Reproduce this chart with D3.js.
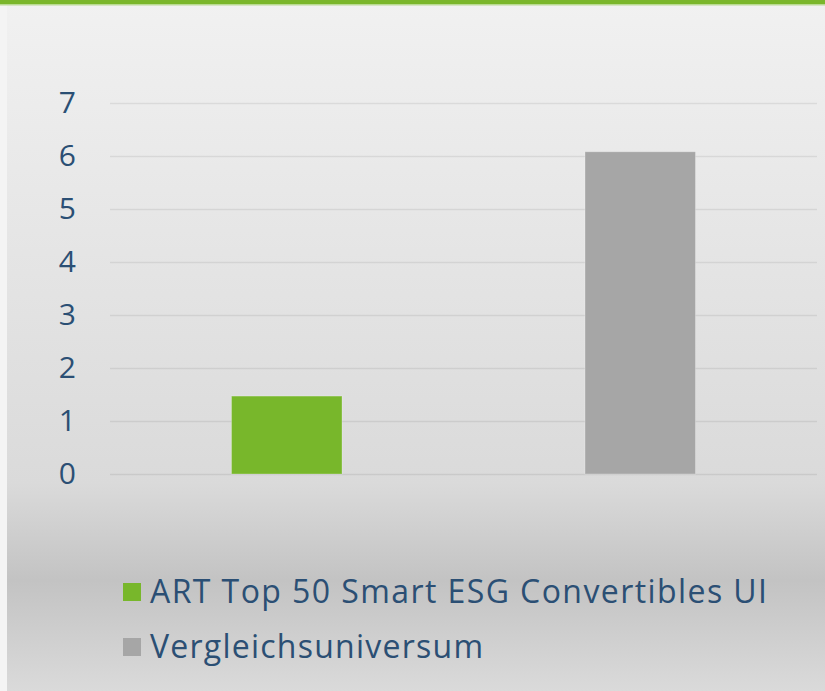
<!DOCTYPE html>
<html lang="de">
<head>
    <meta charset="UTF-8">
    <title>ART Top 50 Smart ESG Convertibles UI</title>
    <script src="https://d3js.org/d3.v7.min.js"></script>
    <style>
        body { margin: 0; overflow: hidden; }
        svg { display: block; }
    </style>
</head>
<body>
    <svg id="chart" width="825" height="691"></svg>
    <script>
        // Daten
        const categories = ["ART Top 50 Smart ESG Convertibles UI", "Vergleichsuniversum"];
        const values = [1.47, 6.08];
        const colors = ["#78b72b", "#a6a6a6"];
        const yTicks = [0, 1, 2, 3, 4, 5, 6, 7];

        const W = 825, H = 691;
        const margin = { top: 103, right: 8, bottom: 217, left: 110 };
        const width = W - margin.left - margin.right,
              height = H - margin.top - margin.bottom;

        const svg = d3.select('#chart');

        // Hintergrund mit Verlauf
        const defs = svg.append('defs');
        const grad = defs.append('linearGradient')
            .attr('id', 'bg')
            .attr('x1', 0).attr('y1', 0).attr('x2', 0).attr('y2', 1);
        [[0, '#f1f1f1'], [0.7, '#dadada'], [0.84, '#c3c3c3'], [1, '#dadada']].forEach(s => {
            grad.append('stop').attr('offset', s[0]).attr('stop-color', s[1]);
        });
        svg.append('rect').attr('width', W).attr('height', H).attr('fill', 'url(#bg)');
        svg.append('rect').attr('width', 7).attr('height', H).attr('fill', '#f4f4f4');
        svg.append('rect').attr('width', W).attr('height', 4).attr('fill', '#7ab62b');
        svg.append('rect').attr('y', 4).attr('width', W).attr('height', 1.5).attr('fill', '#b9da92');

        const g = svg.append('g')
            .attr('transform', `translate(${margin.left},${margin.top})`);

        const x = d3.scaleBand()
            .domain(categories)
            .range([0, width])
            .paddingInner(0.6875)
            .paddingOuter(0.34375);

        const y = d3.scaleLinear()
            .domain([0, 7])
            .range([height, 0]);

        // Gitterlinien
        g.append('g')
            .call(d3.axisLeft(y).tickValues(yTicks).tickSize(-width).tickFormat(''))
            .call(ax => ax.select('.domain').remove())
            .call(ax => ax.selectAll('line')
                .attr('stroke', 'rgba(0,0,0,0.075)')
                .attr('stroke-width', 1.5));

        // Achsenbeschriftung
        g.append('g')
            .attr('transform', 'translate(-31,0)')
            .call(d3.axisLeft(y).tickValues(yTicks).tickSize(0).tickFormat(d3.format('d')))
            .call(ax => ax.select('.domain').remove())
            .call(ax => ax.selectAll('text')
                .attr('fill', '#2b4f74')
                .style('font-family', '"Open Sans", sans-serif')
                .style('font-size', '30px'));

        // Balken
        g.selectAll('.bar')
            .data(categories)
            .enter()
            .append('rect')
            .attr('class', 'bar')
            .attr('x', d => x(d))
            .attr('y', (d, i) => y(values[i]))
            .attr('width', x.bandwidth())
            .attr('height', (d, i) => height - y(values[i]))
            .attr('fill', (d, i) => colors[i])
            .attr('stroke', 'rgba(255,255,255,0.25)')
            .attr('stroke-width', 1);

        // Legende
        const legendWidths = [617, 333];
        const legend = svg.append('g')
            .attr('transform', 'translate(123,583)');

        const item = legend.selectAll('.item')
            .data(categories)
            .enter()
            .append('g')
            .attr('class', 'item')
            .attr('transform', (d, i) => `translate(0,${i * 55})`);

        item.append('rect')
            .attr('width', 18)
            .attr('height', 18)
            .attr('fill', (d, i) => colors[i]);

        item.append('text')
            .attr('x', 27)
            .attr('y', 20)
            .attr('fill', '#2b4f74')
            .attr('textLength', (d, i) => legendWidths[i])
            .attr('lengthAdjust', 'spacing')
            .style('font-family', '"Open Sans", sans-serif')
            .style('font-size', '32px')
            .text(d => d);
    </script>
</body>
</html>
